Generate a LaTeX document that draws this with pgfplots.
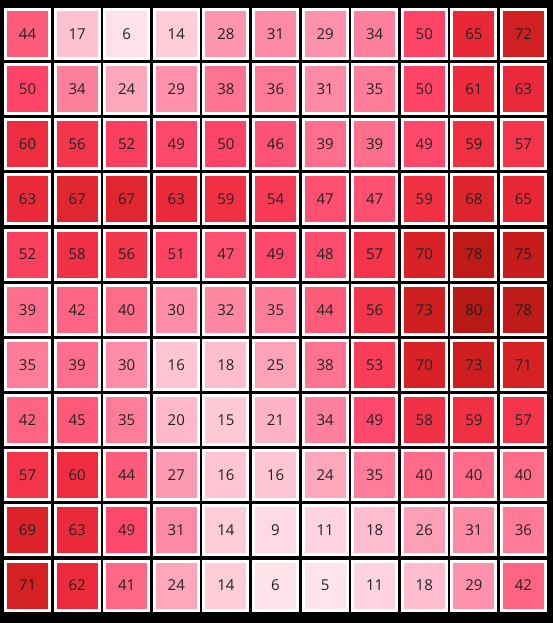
\documentclass[border=0pt]{standalone}
\usepackage{pgfplots}
\usepackage{pgfplotstable}
\usepackage{fontspec}
\setmainfont{Open Sans}
\pgfplotsset{compat=1.18}
\definecolor{txt}{HTML}{222222}
\pgfplotstableread{
x y v
0 0 44
1 0 17
2 0 6
3 0 14
4 0 28
5 0 31
6 0 29
7 0 34
8 0 50
9 0 65
10 0 72
0 1 50
1 1 34
2 1 24
3 1 29
4 1 38
5 1 36
6 1 31
7 1 35
8 1 50
9 1 61
10 1 63
0 2 60
1 2 56
2 2 52
3 2 49
4 2 50
5 2 46
6 2 39
7 2 39
8 2 49
9 2 59
10 2 57
0 3 63
1 3 67
2 3 67
3 3 63
4 3 59
5 3 54
6 3 47
7 3 47
8 3 59
9 3 68
10 3 65
0 4 52
1 4 58
2 4 56
3 4 51
4 4 47
5 4 49
6 4 48
7 4 57
8 4 70
9 4 78
10 4 75
0 5 39
1 5 42
2 5 40
3 5 30
4 5 32
5 5 35
6 5 44
7 5 56
8 5 73
9 5 80
10 5 78
0 6 35
1 6 39
2 6 30
3 6 16
4 6 18
5 6 25
6 6 38
7 6 53
8 6 70
9 6 73
10 6 71
0 7 42
1 7 45
2 7 35
3 7 20
4 7 15
5 7 21
6 7 34
7 7 49
8 7 58
9 7 59
10 7 57
0 8 57
1 8 60
2 8 44
3 8 27
4 8 16
5 8 16
6 8 24
7 8 35
8 8 40
9 8 40
10 8 40
0 9 69
1 9 63
2 9 49
3 9 31
4 9 14
5 9 9
6 9 11
7 9 18
8 9 26
9 9 31
10 9 36
0 10 71
1 10 62
2 10 41
3 10 24
4 10 14
5 10 6
6 10 5
7 10 11
8 10 18
9 10 29
10 10 42
}\heat
\begin{document}
\begin{tikzpicture}
\begin{axis}[
  width=553pt, height=623pt, scale only axis,
  xmin=-0.5544, xmax=10.595,
  ymin=-0.6165, ymax=10.68,
  y dir=reverse,
  xtick=\empty, ytick=\empty,
  axis line style={draw=none},
  axis background/.style={fill=black},
  clip=false,
  colormap={heat}{
    rgb255=(255,236,242) rgb255=(255,228,236) rgb255=(255,214,226)
    rgb255=(255,201,216) rgb255=(255,183,203) rgb255=(252,163,186)
    rgb255=(255,141,168) rgb255=(255,125,153) rgb255=(255,108,138)
    rgb255=(255,88,120) rgb255=(255,68,104) rgb255=(246,56,80)
    rgb255=(238,46,64) rgb255=(232,40,54) rgb255=(216,34,38)
    rgb255=(200,28,28) rgb255=(184,24,22)},
  point meta min=0, point meta max=80,
]
\addplot[scatter, only marks, mark=square*, mark size=22pt,
  mark options={yscale=1.1136},
  scatter/use mapped color={draw=white, fill=mapped color, line width=3pt},
  point meta=explicit,
] table[x=x, y=y, meta=v] {\heat};
\addplot[only marks, mark=none,
  point meta=explicit symbolic,
  nodes near coords,
  nodes near coords align={center},
  every node near coord/.append style={anchor=center, text=txt, font=\fontsize{15}{18}\selectfont, inner sep=0pt},
] table[x=x, y=y, meta=v] {\heat};
\end{axis}
\end{tikzpicture}
\end{document}
